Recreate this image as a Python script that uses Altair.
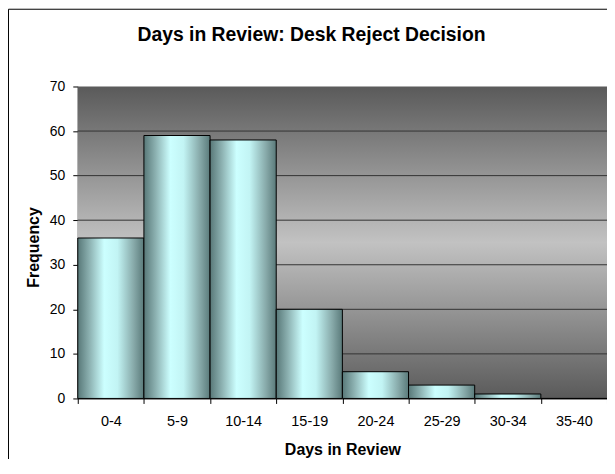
import altair as alt
import pandas as pd

categories = ["0-4", "5-9", "10-14", "15-19", "20-24", "25-29", "30-34", "35-40"]
frequency = [36, 59, 58, 20, 6, 3, 1, 0]
grid_values = [10, 20, 30, 40, 50, 60]
y_ticks = [0, 10, 20, 30, 40, 50, 60, 70]

W, H = 531, 313
FONT = "Liberation Sans"

bars_df = pd.DataFrame({"Days": categories, "Frequency": frequency})
grid_df = pd.DataFrame({"Frequency": grid_values})
one = pd.DataFrame({"a": [0]})

bar_grad = alt.Gradient(
    gradient="linear", x1=0, x2=1, y1=0, y2=0,
    stops=[
        alt.GradientStop(offset=0, color="#587878"),
        alt.GradientStop(offset=0.18, color="#8db2b2"),
        alt.GradientStop(offset=0.40, color="#ccffff"),
        alt.GradientStop(offset=0.60, color="#c2f4f4"),
        alt.GradientStop(offset=0.85, color="#86a8a8"),
        alt.GradientStop(offset=1, color="#5a7a7a"),
    ],
)
bg_grad = alt.Gradient(
    gradient="linear", x1=0, x2=0, y1=0, y2=1,
    stops=[
        alt.GradientStop(offset=0, color="#5a5a5a"),
        alt.GradientStop(offset=0.5, color="#c2c2c2"),
        alt.GradientStop(offset=1, color="#5a5a5a"),
    ],
)

yscale = alt.Scale(domain=[0, 70], nice=False)
y_axis = alt.Axis(
    title="Frequency", values=y_ticks, tickSize=5, labelPadding=8,
    labelFontSize=14, labelFont=FONT, labelColor="black",
    titleFont=FONT, titleFontSize=16, titleFontWeight="bold", titleColor="black",
    titleBaseline="alphabetic", titleX=-39.5, titleY=161, titleAngle=-90,
    domainColor="black", tickColor="black", grid=False,
)

background = alt.Chart(one).mark_rect(color=bg_grad).encode(
    x=alt.value(0), x2=alt.value(W), y=alt.value(0), y2=alt.value(H)
)

grid = alt.Chart(grid_df).mark_rule(color="#333333", strokeWidth=1).encode(
    y=alt.Y("Frequency:Q", scale=yscale, axis=y_axis)
)

bars = alt.Chart(bars_df).mark_bar(color=bar_grad, stroke="black", strokeWidth=1).encode(
    x=alt.X(
        "Days:N", sort=categories,
        scale=alt.Scale(paddingInner=0, paddingOuter=0),
        axis=alt.Axis(
            title="Days in Review", labelAngle=0, tickBand="extent",
            tickSize=5, labelPadding=22, labelBaseline="alphabetic",
            labelFontSize=14.5, labelFont=FONT, labelColor="black",
            titleFont=FONT, titleFontSize=16, titleFontWeight="bold", titleColor="black",
            titleBaseline="alphabetic", titleY=56,
            domainColor="black", tickColor="black", grid=False,
        ),
    ),
    y=alt.Y("Frequency:Q", scale=yscale, axis=y_axis),
)

border = alt.Chart(one).mark_rect(filled=False, stroke="black", strokeWidth=1).encode(
    x=alt.value(-69.5), x2=alt.value(700), y=alt.value(-77.5), y2=alt.value(700)
)

chart = alt.layer(background, grid, bars, border).properties(
    width=W, height=H,
    autosize=alt.AutoSizeParams(type="none"),
    padding={"left": 70, "top": 78, "right": 0, "bottom": 60},
    background="white",
    title=alt.TitleParams(
        "Days in Review: Desk Reject Decision",
        font=FONT, fontSize=19.4, fontWeight="bold", color="black",
        anchor="middle", dx=-31, offset=-56, baseline="bottom",
    ),
).configure_view(strokeWidth=0)

chart.save("out.html", embed_options={"renderer": "svg", "actions": False})
